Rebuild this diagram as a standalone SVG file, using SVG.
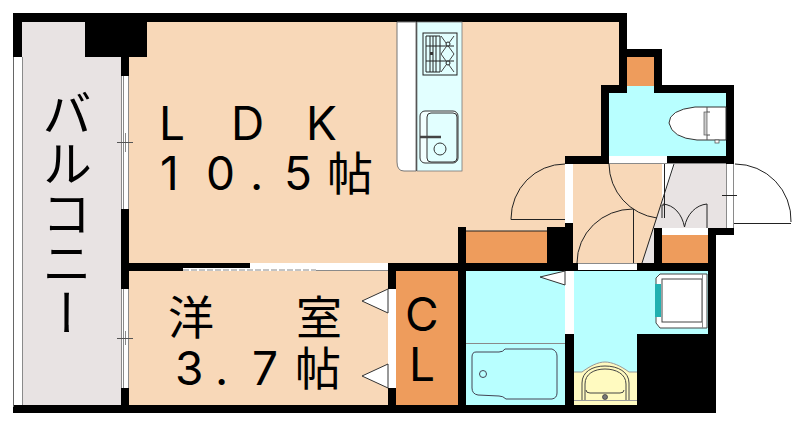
<svg xmlns="http://www.w3.org/2000/svg" width="800" height="427" viewBox="0 0 800 427">
<style>
.k{fill:#000}
.w{fill:#fff}
.p{fill:#F8D8B8}
.b{fill:#B8FFFF}
.g{fill:#E8E3E3}
.o{fill:#EE9C5C}
.l{fill:none;stroke:#222;stroke-width:1}
.s{fill:none;stroke:#8a8a8a;stroke-width:1}
.wl{fill:#fff;stroke:#333;stroke-width:1}
.t{font-family:Inter,"Noto Sans CJK JP",sans-serif;font-size:46px;fill:#000;font-weight:400}
</style>
<rect width="800" height="427" fill="#fff"/>
<g id="floors">
<rect class="g" x="22" y="22" width="99" height="383"/>
<rect class="p" x="129" y="22" width="490" height="241"/>
<rect class="p" x="129" y="271" width="259" height="134"/>
<rect class="p" x="573" y="164" width="89" height="99"/>
<polygon class="g" points="675,164 726,164 726,228 654,228 654,263 642,263"/>
<rect class="o" x="627" y="57" width="27" height="31"/>
<rect class="b" x="609" y="93" width="117" height="63"/>
<rect class="b" x="627" y="86" width="27" height="8"/>
<rect class="o" x="466" y="231" width="81" height="32"/>
<rect class="o" x="662" y="235" width="46" height="28"/>
<rect class="o" x="396" y="271" width="62" height="134"/>
<rect class="b" x="466" y="271" width="99" height="134"/>
<rect class="b" x="574" y="271" width="134" height="134"/>
<rect x="574" y="372" width="63" height="33" fill="#FFFAC0"/>
</g>
<g id="walls">
<rect class="k" x="13" y="13" width="614" height="9"/>
<rect class="k" x="13" y="13" width="9" height="44"/>
<rect class="k" x="85" y="22" width="62" height="35"/>
<rect class="k" x="121" y="57" width="8" height="19"/>
<rect class="k" x="121" y="209" width="8" height="80"/>
<rect class="k" x="121" y="388" width="8" height="17"/>
<rect class="k" x="13" y="405" width="703" height="8"/>
<rect x="13" y="57" width="1" height="350" fill="#666"/>
<rect class="k" x="129" y="263" width="121" height="8"/>
<rect class="k" x="619" y="22" width="8" height="66"/>
<rect class="k" x="627" y="49" width="35" height="8"/>
<rect class="k" x="654" y="49" width="8" height="36"/>
<rect class="k" x="601" y="85" width="26" height="8"/>
<rect class="k" x="654" y="85" width="80" height="8"/>
<rect class="k" x="601" y="85" width="8" height="79"/>
<rect class="k" x="726" y="85" width="8" height="79"/>
<rect class="k" x="565" y="156" width="169" height="8"/>
<rect class="k" x="547" y="223" width="26" height="48"/>
<rect x="547" y="223" width="18" height="4" class="p"/>
<rect class="k" x="458" y="227" width="8" height="178"/>
<rect class="k" x="388" y="263" width="328" height="8"/>
<rect class="k" x="388" y="263" width="8" height="142"/>
<rect class="k" x="654" y="228" width="8" height="36"/>
<rect class="k" x="708" y="228" width="26" height="7"/>
<rect class="k" x="708" y="228" width="8" height="185"/>
<rect class="k" x="565" y="271" width="9" height="134"/>
<rect class="k" x="637" y="334" width="71" height="71"/>
</g>
<g id="openings">
<rect class="w" x="14" y="57" width="8" height="348"/>
<line class="s" x1="22.500" y1="57" x2="22.500" y2="405"/>
<rect class="w" x="121" y="76" width="8" height="133"/>
<rect class="w" x="121" y="289" width="8" height="99"/>
<path class="s" d="M121.500 76V209M123.500 76V209M128.500 76V209M121.500 289V388M123.500 289V388M128.500 289V388"/>
<path class="s" d="M125.500 133V152M125.500 331V345"/>
<path d="M117 142.500H133M117 338.500H133" fill="none" stroke="#555"/>
<rect class="w" x="183" y="268" width="67" height="3"/>
<rect class="w" x="250" y="263" width="138" height="8"/>
<path d="M183 270H316" fill="none" stroke="#888" stroke-dasharray="6 2"/>
<path class="s" d="M316 270.500H388"/>
<rect class="w" x="609" y="156" width="58" height="8"/>
<path class="s" d="M609 163.500H726"/>
<rect class="w" x="565" y="164" width="8" height="59"/>
<rect class="w" x="662" y="228" width="46" height="7"/>
<rect class="w" x="727" y="164" width="7" height="64"/>
<path class="s" d="M726.500 164V228M733.500 164V228"/>
<rect class="w" x="578" y="263" width="59" height="7"/>
<path class="s" d="M578 263.500H637"/>
<rect class="w" x="388" y="289" width="8" height="99"/>
<rect class="w" x="565" y="271" width="9" height="63"/>
<polygon class="wl" points="362,301 388,289 388,313"/>
<polygon class="wl" points="362,376 388,364 388,388"/>
<polygon class="wl" points="540,277 565,271 565,285"/>
</g>
<g id="connectors">
<path class="l" d="M565 164A54 55 0 0 0 511 219V219.500H565"/>
<path class="l" d="M609 164A55 55 0 0 0 657 218"/>
<path class="l" d="M664.500 164V218M662 205H664"/>
<path class="l" d="M577 263A56 54 0 0 1 633 209M633.500 209V263"/>
<path class="l" d="M674 164L642 263"/>
<path class="l" d="M663 204C674 205 682 214 684.500 227C687 214 696 205 707 204V228M662 205V218"/>
<path class="l" d="M735 164A56 56 0 0 1 791 222M734 223.500H791M722 195.500H737"/>
<path d="M466 231H547" stroke="#222" fill="none"/>
</g>
<g id="kitchen">
<path d="M397 22H416V171H404Q397 171 397 162Z" fill="#fff" stroke="#777"/>
<rect x="417" y="22" width="45" height="149" fill="#E2FFFF" stroke="#777" stroke-width=".8"/>
<line x1="416.500" y1="22" x2="416.500" y2="171" stroke="#555"/>
<rect x="423" y="33" width="34" height="42" fill="#E2FFFF" stroke="#222"/>
<path d="M426 36H440V72H426ZM430 36V72M433 36V72M436 36V72M426 46H454M426 61H454" fill="none" stroke="#222"/>
<path d="M441 36L454 54L441 72M454 36L441 54L454 72" fill="none" stroke="#444"/>
<circle cx="448" cy="44" r="2" fill="#E2FFFF" stroke="#222"/>
<circle cx="448" cy="63" r="2" fill="#E2FFFF" stroke="#222"/>
<rect x="430" y="52" width="3" height="3" fill="#333"/>
<rect x="420" y="111" width="38" height="52" rx="5" fill="#F2FFFF" stroke="#333"/>
<rect x="427" y="113" width="30" height="49" rx="4" fill="#E2FFFF" stroke="#333"/>
<path d="M420 137H441" stroke="#444" stroke-width="2.500" fill="none"/>
<circle cx="440" cy="149" r="6" fill="none" stroke="#333"/>
</g>
<g id="toilet">
<path d="M726 107H695Q669 110 669 123Q672 138 697 140H726Z" fill="#fff" stroke="#333"/>
<rect x="704" y="112" width="3" height="23" fill="#ccc" stroke="#555" stroke-width=".7"/>
<path d="M707 107V112H710M707 140V135H710" fill="none" stroke="#555"/>
<rect x="715" y="140" width="4" height="3" fill="#fff" stroke="#444" stroke-width=".7"/>
</g>
<g id="bath">
<path class="s" d="M466 343.500H565"/>
<path d="M476 352H499Q503 352 505 349H552Q557 351 557 356V393Q557 398 552 399H506Q503 396 499 396L478 395Q472 394 472 388V357Q472 352 476 352Z" fill="none" stroke="#445"/>
<circle cx="483" cy="374" r="3.500" fill="none" stroke="#445"/>
</g>
<g id="washer">
<path d="M656 278L660 274H707V328H660L656 323Z" fill="#fff" stroke="#444"/>
<rect x="655" y="284" width="6" height="33" fill="#20B0B0"/>
<rect x="662" y="279" width="40" height="43" fill="#fff" stroke="#444"/>
<path class="s" d="M702.500 274V328"/>
</g>
<g id="basin">
<path d="M582 372C590 366 598 362 605 362C612 362 621 366 629 372Z" fill="#FFFAC0" stroke="none"/>
<path d="M574 372H582C590 366 598 362 605 362C612 362 621 366 629 372H637" fill="none" stroke="#999"/>
<path d="M582 400V383C582 372 592 366 605 366C618 366 629 372 629 383V400M585 400V384C585 374 594 369 605 369C616 369 626 374 626 384V400" fill="none" stroke="#444"/>
<path d="M586 390Q586 393 590 393H620Q624 393 624 390" fill="none" stroke="#444"/>
<circle cx="605" cy="397" r="2.500" fill="#777" stroke="#333" stroke-width=".7"/>
<path d="M574 400.500H637" stroke="#999" fill="none"/>
</g>
<g id="labels">
<text class="t" x="159 231 306" y="140">LDK</text>
<text class="t" x="160 206 250 284 327" y="190">10.5帖</text>
<text class="t" x="168 296" y="334">洋室</text>
<text class="t" x="175 215 252 295" y="385">3.7帖</text>
<text class="t" x="405" y="331">C</text>
<text class="t" x="409" y="381">L</text>
<text class="t" x="67" y="88" style="writing-mode:vertical-rl;font-family:'Noto Sans CJK JP',sans-serif;font-size:50px">バルコニー</text>
</g>
</svg>
